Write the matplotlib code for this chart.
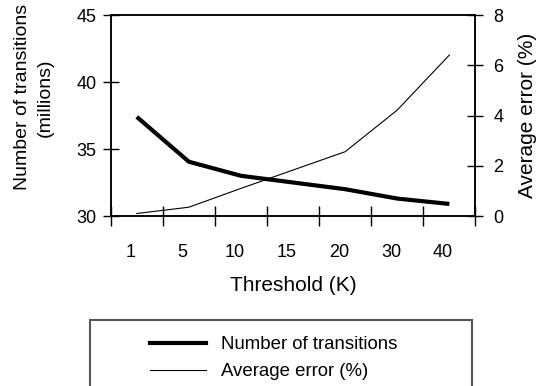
import numpy as np
import matplotlib
matplotlib.use("Agg")
import matplotlib.pyplot as plt
from matplotlib.patches import Rectangle
from matplotlib.lines import Line2D

plt.rcParams['font.family'] = ['Liberation Sans', 'DejaVu Sans']

# Данные
thresholds = ["1", "5", "10", "15", "20", "30", "40"]
transitions = [37.4, 34.05, 33.0, 32.5, 32.0, 31.3, 30.9]   # миллионы
avg_error = [0.1, 0.35, 1.1, 1.83, 2.56, 4.22, 6.41]       # %

pos = np.arange(len(thresholds))

fig = plt.figure(figsize=(5.38, 3.86), dpi=100)
ax = fig.add_axes([0.2058, 0.4404, 0.678, 0.5207])
ax2 = ax.twinx()

ax.plot(pos, transitions, color="black", linewidth=3.0, solid_capstyle='butt')
ax2.plot(pos, avg_error, color="black", linewidth=0.8)

ax.set_xlim(-0.5, len(thresholds) - 0.5)
ax.set_ylim(30, 45)
ax2.set_ylim(0, 8)
ax.set_yticks([30, 35, 40, 45])
ax2.set_yticks([0, 2, 4, 6, 8])

# деления по границам категорий, подписи - почти по центру
ax.set_xticks(np.arange(-0.5, len(thresholds), 1.0))
ax.set_xticklabels([])
ax.set_xticks(pos - 0.12, minor=True)
ax.set_xticklabels(thresholds, minor=True)
ax.tick_params(axis='x', which='major', direction='inout', length=14, width=1.0)
ax.tick_params(axis='x', which='minor', length=0, pad=20, labelsize=13)
ax.tick_params(axis='y', direction='inout', length=12, width=1.0, pad=4, labelsize=13)
ax2.tick_params(axis='y', direction='inout', length=11, width=1.0, pad=7.5, labelsize=13)

for a in (ax, ax2):
    for s in a.spines.values():
        s.set_linewidth(1.1)

ax.set_xlabel("Threshold (K)", fontsize=15, labelpad=11)
ax.set_ylabel("Number of transitions\n(millions)", fontsize=14, linespacing=1.45)
ax.yaxis.set_label_coords(-0.155, 0.59)
ax2.set_ylabel("Average error (%)", fontsize=15, labelpad=10)

# легенда снизу в рамке
fig.add_artist(Rectangle((90 / 538, -0.1), (472 - 90) / 538, 1 - 320 / 386 + 0.1,
                         transform=fig.transFigure, fill=False,
                         edgecolor="#555555", linewidth=1.5))
handles = [Line2D([], [], color="black", linewidth=3.0),
           Line2D([], [], color="black", linewidth=0.8)]
fig.legend(handles, ["Number of transitions", "Average error (%)"],
           loc='upper left', bbox_to_anchor=(150 / 538, 1 - 336 / 386),
           frameon=False, fontsize=13.4, handlelength=3.0, handletextpad=0.8,
           borderpad=0, borderaxespad=0, labelspacing=0.55)

fig.savefig("out.png", dpi=100)
